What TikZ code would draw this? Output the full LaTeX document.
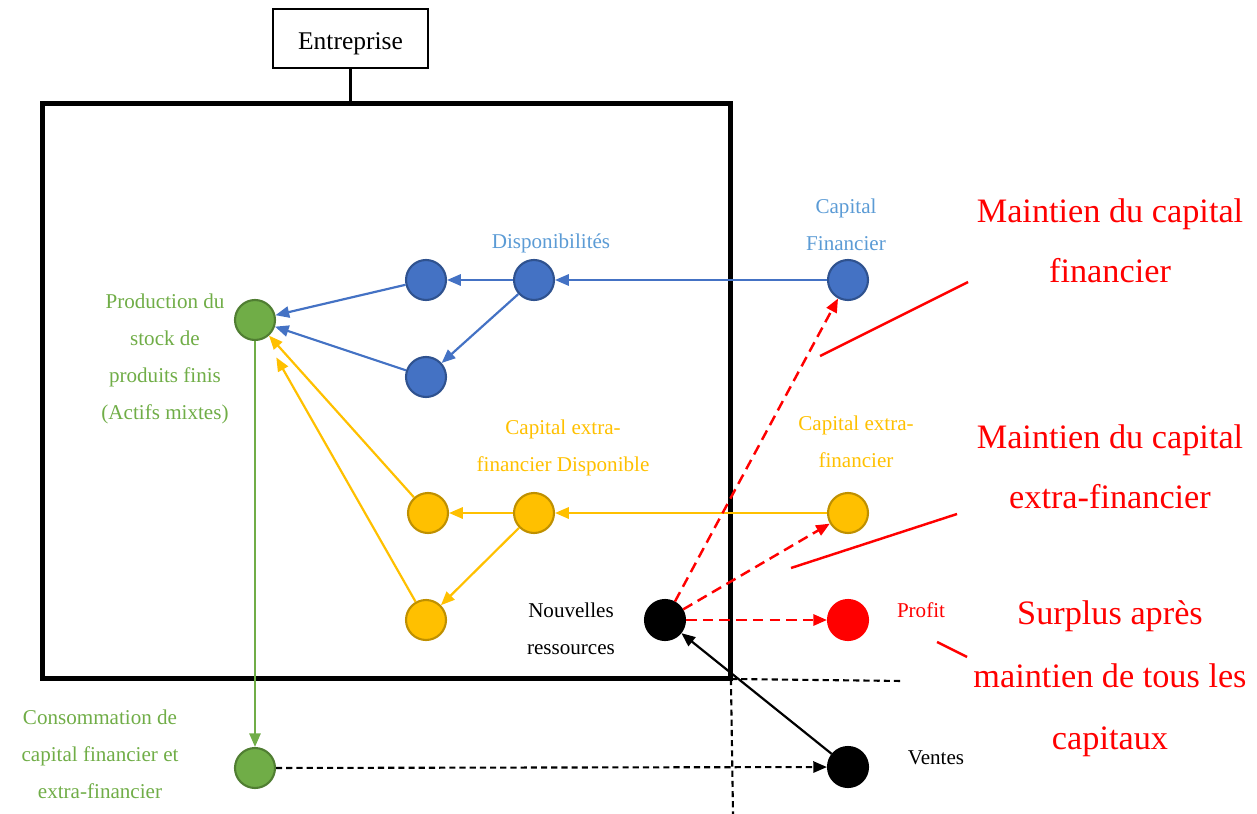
\documentclass[tikz,border=0pt]{standalone}
\usepackage{fontspec}
\setmainfont{Liberation Serif}
\usetikzlibrary{arrows.meta}
\definecolor{bluefill}{HTML}{4472C4}
\definecolor{blueedge}{HTML}{2F528F}
\definecolor{bluetext}{HTML}{5B9BD5}
\definecolor{goldfill}{HTML}{FFC000}
\definecolor{goldedge}{HTML}{BF9000}
\definecolor{greenfill}{HTML}{70AD47}
\definecolor{greenedge}{HTML}{507E32}
\definecolor{redc}{HTML}{FF0000}

\begin{document}
\begin{tikzpicture}[x=0.02cm,y=-0.02cm,
  dot/.style={circle, minimum size=0.8cm, inner sep=0pt, line width=1.2pt},
  bdot/.style={dot, fill=bluefill, draw=blueedge},
  ydot/.style={dot, fill=goldfill, draw=goldedge},
  gdot/.style={dot, fill=greenfill, draw=greenedge},
  kdot/.style={dot, fill=black, draw=black},
  rdot/.style={dot, fill=redc, draw=redc},
  tip/.style={-{Triangle[length=7.8pt,width=6.4pt]}},
  flow/.style={tip, line width=1.25pt},
  reddash/.style={tip, draw=redc, line width=1.4pt, dash pattern=on 6pt off 3.5pt},
  blackdash/.style={line width=1.2pt, dash pattern=on 3.5pt off 2.3pt},
  lbl/.style={font=\fontsize{12}{21}\selectfont, align=center, inner sep=0pt},
  big/.style={font=\fontsize{19.5}{34}\selectfont, align=center, text=redc, inner sep=0pt},
]
\useasboundingbox (0,0) rectangle (1257,814);

% company frame and its title box
\node[draw, line width=2.8pt, minimum width=13.78cm, minimum height=11.52cm, outer sep=0pt] (box) at (386.5,391) {};
\node[draw, line width=1.2pt, minimum width=3.1cm, minimum height=1.18cm] (ent) at (350.5,38.5) {};
\node[font=\fontsize{14.5}{17}\selectfont, inner sep=0pt] (entlbl) at (350.5,44) {Entreprise};
\draw[line width=1.2pt] (ent.south) -- (box.north -| ent.south);

% dashed boundary lines from the frame corner
\coordinate (corner) at (box.south east);
\coordinate (hend) at (903,681);
\coordinate (vend) at (733,814);
\draw[blackdash] (corner) -- (hend);
\draw[blackdash] (corner) -- (vend);

% nodes
\node[gdot] (G1) at (255,320) {};
\node[gdot] (G2) at (255,768) {};
\node[bdot] (B1) at (426,280) {};
\node[bdot] (B2) at (534,280) {};
\node[bdot] (B3) at (426,377) {};
\node[bdot] (CF) at (848,280) {};
\node[ydot] (Y1) at (428,513) {};
\node[ydot] (Y2) at (534,513) {};
\node[ydot] (Y3) at (426,620) {};
\node[ydot] (YC) at (848,513) {};
\node[kdot] (N) at (665,620) {};
\node[kdot] (V) at (848,767) {};
\node[rdot] (P) at (848,620) {};

% financial capital flows
\draw[flow, bluefill] (CF) -- (B2);
\draw[flow, bluefill] (B2) -- (B1);
\draw[flow, bluefill] (B2) -- (B3);
\draw[flow, bluefill] (B1) -- (G1);
\draw[flow, bluefill] (B3) -- (G1);

% extra-financial capital flows
\draw[flow, goldfill] (YC) -- (Y2);
\draw[flow, goldfill] (Y2) -- (Y1);
\draw[flow, goldfill] (Y2) -- (Y3);
\draw[flow, goldfill] (Y1) -- (G1);
\draw[flow, goldfill, shorten >=0.44cm] (Y3) -- (G1);

% consumption and sales
\draw[flow, greenfill] (G1) -- (G2);
\draw[tip, blackdash] (G2) -- (V);
\draw[flow, black] (V) -- (N);

% reinvestment of new resources
\draw[reddash] (N) -- (CF);
\draw[reddash] (N) -- (YC);
\draw[reddash] (N) -- (P);

% pointer lines towards the red captions
\coordinate (m1a) at (820,356); \coordinate (m1b) at (968,282);
\coordinate (m2a) at (791,568); \coordinate (m2b) at (957,514);
\coordinate (m3a) at (937,642); \coordinate (m3b) at (967,657);
\draw[redc, line width=1.4pt] (m1a) -- (m1b);
\draw[redc, line width=1.4pt] (m2a) -- (m2b);
\draw[redc, line width=1.4pt] (m3a) -- (m3b);

% labels
\node[lbl, text=greenfill] (lprod) at (165,359) {Production du\\stock de\\produits finis\\(Actifs mixtes)};
\node[lbl, text=bluetext] (ldisp) at (551,243) {Disponibilités};
\node[lbl, text=bluetext] (lcf) at (846,224.5) {Capital\\Financier};
\node[lbl, text=goldfill] (lcefd) at (563,447.5) {Capital extra-\\financier Disponible};
\node[lbl, text=goldfill] (lcef) at (856,441.5) {Capital extra-\\financier};
\node[lbl] (lnr) at (571,629) {Nouvelles\\ressources};
\node[lbl, text=redc] (lprofit) at (921,610) {Profit};
\node[lbl] (lventes) at (936,758) {Ventes};
\node[lbl, text=greenfill] (lconso) at (100,754) {Consommation de\\capital financier et\\extra-financier};

\node[big] (t1) at (1110,241) {Maintien du capital\\financier};
\node[big] (t2) at (1110,467) {Maintien du capital\\extra-financier};
\node[big, font=\fontsize{19.5}{35.5}\selectfont] (t3) at (1110,679) {Surplus après\\maintien de tous les\\capitaux};
\end{tikzpicture}
\end{document}
